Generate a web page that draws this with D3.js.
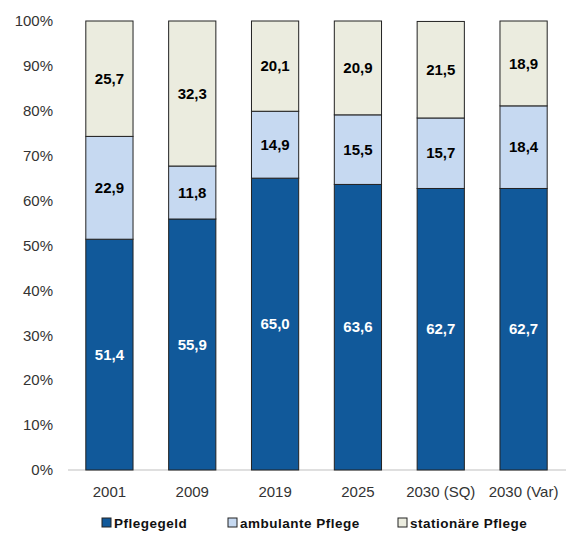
<!DOCTYPE html>
<html><head><meta charset="utf-8">
<script src="https://cdn.jsdelivr.net/npm/d3@7"></script>
<style>body{margin:0;background:#fff;} text{font-family:"Liberation Sans",Arial,sans-serif;}</style>
</head><body>
<svg id="c" width="574" height="535"></svg>
<script>
const categories = ["2001","2009","2019","2025","2030 (SQ)","2030 (Var)"];
const seriesNames = ["Pflegegeld","ambulante Pflege","stationäre Pflege"];
const pflegegeld = [51.4,55.9,65.0,63.6,62.7,62.7];
const ambulante = [22.9,11.8,14.9,15.5,15.7,18.4];
const stationaere = [25.7,32.3,20.1,20.9,21.5,18.9];
const yTicks = [0,10,20,30,40,50,60,70,80,90,100];
const colors = ["#11599a","#c6d9f1","#ebecdf"];
const labelColors = ["#fff","#000","#000"];

const svg = d3.select("#c");
const x = d3.scaleBand().domain(categories).range([68,565]).paddingInner(0.43).paddingOuter(0.215);
const y = d3.scaleLinear().domain([0,100]).range([470,21]);

const rows = categories.map((c,i)=>({cat:c, s0:pflegegeld[i], s1:ambulante[i], s2:stationaere[i]}));
const stack = d3.stack().keys(["s0","s1","s2"]);
const series = stack(rows);

// baseline
svg.append("line").attr("x1",68).attr("x2",566).attr("y1",y(0)).attr("y2",y(0))
  .attr("stroke","#d4d4d4").attr("stroke-width",1.5);

// y tick labels
svg.append("g").selectAll("text").data(yTicks).join("text")
  .attr("x",53).attr("y",d=>y(d)).attr("dy","0.35em").attr("text-anchor","end")
  .attr("font-size",15).attr("fill","#333").text(d=>d+"%");

series.forEach((s,k)=>{
  const g = svg.append("g");
  g.selectAll("rect").data(s).join("rect")
    .attr("x",d=>x(d.data.cat)).attr("width",x.bandwidth())
    .attr("y",d=>y(Math.min(d[1],100))).attr("height",d=>y(d[0])-y(Math.min(d[1],100)))
    .attr("fill",colors[k]).attr("stroke","#222").attr("stroke-width",1);
  g.selectAll("text").data(s).join("text")
    .attr("x",d=>x(d.data.cat)+x.bandwidth()/2)
    .attr("y",d=>y((d[0]+Math.min(d[1],100))/2)).attr("dy","0.35em")
    .attr("text-anchor","middle").attr("font-size",15).attr("font-weight","bold")
    .attr("fill",labelColors[k])
    .text(d=>d3.format(".1f")(d[1]-d[0]).replace(".",","));
});

// x labels
svg.append("g").selectAll("text").data(categories).join("text")
  .attr("x",d=>x(d)+x.bandwidth()/2).attr("y",497).attr("text-anchor","middle")
  .attr("font-size",15).attr("fill","#333").text(d=>d);

// legend
const legX = [102,228,398];
const leg = svg.append("g").selectAll("g").data(seriesNames).join("g")
  .attr("transform",(d,i)=>`translate(${legX[i]},523)`);
leg.append("rect").attr("x",0).attr("y",-5).attr("width",9).attr("height",9)
  .attr("fill",(d,i)=>colors[i]).attr("stroke","#222").attr("stroke-width",1);
leg.append("text").attr("x",12).attr("y",0).attr("dy","0.35em")
  .attr("font-size",13.5).attr("font-weight","bold").attr("letter-spacing",0.5)
  .attr("fill","#111").text(d=>d);
</script>
</body></html>
